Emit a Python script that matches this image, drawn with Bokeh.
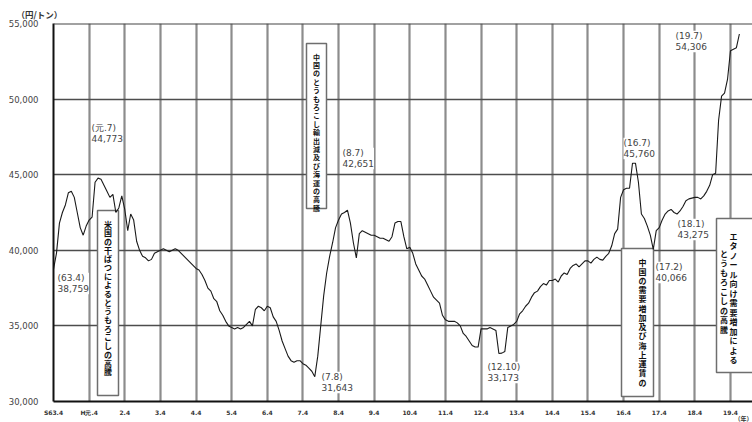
import numpy as np
from bokeh.plotting import figure
from bokeh.models import ColumnDataSource, FixedTicker, Label, Span, Range1d, Title
from bokeh.embed import file_html
from bokeh.resources import INLINE
from bokeh.core.properties import value

# ---- data: monthly corn price (円/トン), fiscal-year blocks April..March, from S63.4 ----
fy_s63 = [38759, 39800, 41800, 42500, 43000, 43800, 43900, 43500, 42500, 41500, 41000, 41600]
fy_h01 = [42000, 42200, 44500, 44773, 44700, 44300, 43900, 43500, 43700, 42500, 42800, 43600]
fy_h02 = [42700, 41300, 42400, 42000, 40600, 40000, 39600, 39500, 39300, 39400, 39800, 39900]
fy_h03 = [40000, 40100, 40000, 39900, 40000, 40100, 40000, 39800, 39600, 39400, 39200, 39000]
fy_h04 = [38800, 38700, 38400, 38000, 37500, 37300, 36800, 36600, 36000, 35700, 35300, 35000]
fy_h05 = [34900, 34800, 34900, 34800, 34900, 35100, 35300, 35000, 36100, 36300, 36200, 36000]
fy_h06 = [36300, 36200, 35600, 35300, 34700, 34000, 33500, 33000, 32700, 32600, 32700, 32700]
fy_h07 = [32500, 32400, 32200, 32000, 31643, 33000, 35000, 37000, 38500, 39600, 40500, 41500]
fy_h08 = [42000, 42400, 42500, 42651, 41800, 40500, 39500, 41100, 41300, 41200, 41100, 41000]
fy_h09 = [41000, 40900, 40800, 40800, 40700, 40600, 40900, 41800, 41900, 41900, 40900, 40100]
fy_h10 = [40200, 39800, 39100, 38700, 38300, 38100, 37700, 37300, 36900, 36700, 36500, 35700]
fy_h11 = [35400, 35300, 35300, 35300, 35200, 35000, 34500, 34300, 34000, 33700, 33600, 33600]
fy_h12 = [34800, 34800, 34800, 34900, 34800, 34700, 33173, 33200, 33300, 34900, 35000, 35100]
fy_h13 = [35300, 35800, 36000, 36300, 36500, 36900, 37200, 37300, 37600, 37800, 37700, 38000]
fy_h14 = [38000, 38100, 37900, 38300, 38500, 38400, 38800, 39000, 39100, 38900, 39100, 39300]
fy_h15 = [39300, 39150, 39400, 39550, 39400, 39350, 39600, 39800, 40300, 41100, 41400, 43500]
fy_h16 = [44000, 44100, 44100, 45760, 45760, 44500, 42400, 42100, 41600, 41000, 40066, 41300]
fy_h17 = [41500, 42000, 42400, 42600, 42700, 42500, 42400, 42600, 42900, 43275, 43400, 43450]
fy_h18 = [43500, 43500, 43400, 43600, 43900, 44300, 45000, 45100, 48600, 50200, 50400, 51300]
fy_h19 = [53200, 53300, 53400, 54306]

prices = (fy_s63 + fy_h01 + fy_h02 + fy_h03 + fy_h04 + fy_h05 + fy_h06 + fy_h07 +
          fy_h08 + fy_h09 + fy_h10 + fy_h11 + fy_h12 + fy_h13 + fy_h14 + fy_h15 +
          fy_h16 + fy_h17 + fy_h18 + fy_h19)

x_tick_labels = ["S63.4", "H元.4", "2.4", "3.4", "4.4", "5.4", "6.4", "7.4", "8.4", "9.4",
                 "10.4", "11.4", "12.4", "13.4", "14.4", "15.4", "16.4", "17.4", "18.4", "19.4"]
y_ticks = [30000, 35000, 40000, 45000, 50000, 55000]
y_tick_labels = ["30,000", "35,000", "40,000", "45,000", "50,000", "55,000"]

# annotated points: (month index, date label, value label)
point_month = [0, 15, 88, 99, 150, 195, 202, 213, 231]
point_date = ["(63.4)", "(元.7)", "(7.8)", "(8.7)", "(12.10)", "(16.7)", "(17.2)", "(18.1)", "(19.7)"]
point_value = ["38,759", "44,773", "31,643", "42,651", "33,173", "45,760", "40,066", "43,275", "54,306"]

# event boxes (vertical Japanese text, columns right-to-left)
box_cols = [
    ["米国の干ばつによるとうもろこしの高騰"],
    ["中国のとうもろこし輸出減及び海運の高騰"],
    ["中国の需要増加及び海上運賃の", "上昇による原料価格の高騰"],
    ["エタノール向け需要増加による", "とうもろこしの高騰"],
]

# ---- layout helpers (page pixel -> data) ----
PX0, PXY = 53.0, 35.63          # x of S63.4, px per year
PY_TOP, PY_BOT = 23.0, 401.0     # y of 55,000 and 30,000
def X(px):
    return (px - PX0) / PXY
def Y(py):
    return 55000 - (py - PY_TOP) / (PY_BOT - PY_TOP) * 25000

months = np.arange(len(prices))
xs = months / 12.0
src = ColumnDataSource(dict(x=xs, y=prices))

W, H = 752, 422
p = figure(width=W, height=H, output_backend="svg", toolbar_location=None,
           x_range=Range1d(0, X(752)), y_range=Range1d(30000, 55000),
           min_border_left=53, min_border_right=0, min_border_top=23, min_border_bottom=21)
p.outline_line_color = None
p.background_fill_color = "white"

# unit label (円/トン) as title above the frame, shifted to the left
p.title.text = "（円/トン）"
p.title.align = "left"
p.title.offset = -37
p.title.standoff = 8
p.title.text_font = "Noto Sans CJK JP"
p.title.text_font_size = "8.5px"
p.title.text_font_style = "bold"
p.title.text_color = "#333333"

# axes
xax = p.xaxis[0]
xax.ticker = FixedTicker(ticks=list(range(len(x_tick_labels))))
xax.major_label_overrides = {i: t for i, t in enumerate(x_tick_labels)}
xax.axis_line_color = "#111111"
xax.axis_line_width = 2
xax.major_tick_line_color = None
xax.minor_tick_line_color = None
xax.major_label_standoff = 1
xax.major_label_text_font = "DejaVu Sans"
xax.major_label_text_font_size = "6px"
xax.major_label_text_font_style = "bold"
xax.major_label_text_color = "#333333"

# year unit (年) as a small title below the axis, right-aligned
year_title = Title(text="（年）", align="right", vertical_align="middle", standoff=-12,
                   text_font="Noto Sans CJK JP", text_font_size="6px",
                   text_font_style="bold", text_color="#333333")
p.add_layout(year_title, "below")

yax = p.yaxis[0]
yax.ticker = FixedTicker(ticks=y_ticks)
yax.major_label_overrides = {t: l for t, l in zip(y_ticks, y_tick_labels)}
yax.axis_line_color = "#111111"
yax.axis_line_width = 2
yax.major_tick_line_color = None
yax.minor_tick_line_color = None
yax.major_label_standoff = 9
yax.major_label_text_font = "DejaVu Sans"
yax.major_label_text_font_size = "8.5px"
yax.major_label_text_color = "#444444"

# grids
p.xgrid.ticker = FixedTicker(ticks=list(range(len(x_tick_labels))))
p.xgrid.grid_line_color = "#8c8c8c"
p.xgrid.grid_line_width = 2.2
p.ygrid.ticker = FixedTicker(ticks=y_ticks[1:-1])
p.ygrid.grid_line_color = "#4d4d4d"
p.ygrid.grid_line_width = 1.4
p.add_layout(Span(location=55000, dimension="width", line_color="#444444", line_width=2))

# event boxes
box_l = [X(97), X(306), X(621), X(716)]
box_r = [X(118), X(326), X(653), X(760)]
box_t = [Y(210), Y(43), Y(248), Y(218)]
box_b = [Y(395), Y(208), Y(396), Y(372)]
p.quad(left=box_l, right=box_r, top=box_t, bottom=box_b,
       fill_color="white", line_color="#6e6e6e", line_width=1.5)

col_x = [[107.5], [316], [642, 631], [733, 723.5]]
col_top = [[218], [51], [256], [230, 247]]
col_fs = ["8px", "7px", "8px", "8px"]
col_lh = [0.79, 0.84, 0.84, 0.865]
for cols, cxs, cts, fs, lh in zip(box_cols, col_x, col_top, col_fs, col_lh):
    for txt, cx, ct in zip(cols, cxs, cts):
        p.text(x=[X(cx)], y=[Y(ct)], text=["\n".join(txt)],
               text_font=value("Noto Sans CJK JP"), text_font_size=fs,
               text_font_style="bold", text_color="#111111",
               text_align="center", text_baseline="top", text_line_height=lh)

# price line
p.line("x", "y", source=src, line_color="#1a1a1a", line_width=1.1)

# point labels
lab_left = [57, 91, 321, 342, 487, 623, 655, 677, 675]
lab_mid = [283, 133, 382, 158, 372, 148, 272, 229, 41]
for d, v, lx, ly in zip(point_date, point_value, lab_left, lab_mid):
    p.add_layout(Label(x=X(lx), y=Y(ly), text=d + "\n" + v,
                       text_font="DejaVu Sans", text_font_size="9px",
                       text_color="#444444", text_align="left", text_baseline="middle",
                       text_line_height=1.15,
                       background_fill_color="white", background_fill_alpha=1.0))

open("out.html", "w").write(file_html(p, INLINE))
